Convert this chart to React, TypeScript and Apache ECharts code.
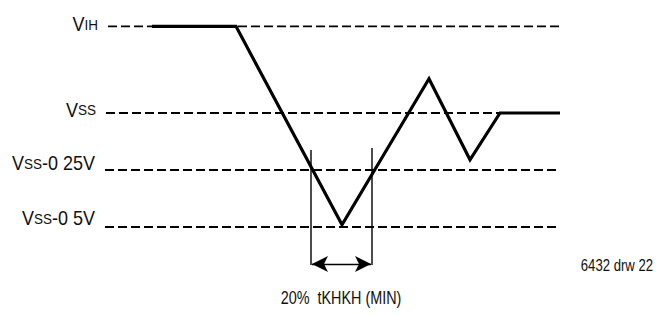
import React, { useEffect, useRef } from "react";
import * as echarts from "echarts";

// Voltage levels (volts relative to VSS)
const levelLabels = ["{v|V}{s|IH}", "{v|V}{s|SS}", "{v|V}{s|SS}{v|-0 25V}", "{v|V}{s|SS}{v|-0 5V}"];
const levelValues = [0.38, 0, -0.25, -0.5];
const levelStart = [0.8, 0.6, 0.5, 0.5];
const levelEnd = [46.3, 46.0, 45.8, 45.8];
const labelOffsetY = [-2, -3, -6.5, -8.5];

// Clock waveform (time units, volts)
const waveT = [5.2, 13.6, 24.2, 32.9, 37.0, 40.0, 46.0];
const waveV = [0.38, 0.38, -0.49, 0.15, -0.205, 0, 0];

// 20% tKHKH markers
const markerT = [21.1, 27.2];
const markerTop = [-0.162, -0.154];
const markerBottom = -0.667;
const arrowV = -0.662;

const noteText = "6432 drw 22";
const captionText = "20%  tKHKH (MIN)";

const FONT = "'Liberation Sans', Arial, sans-serif";

export default function App() {
  const ref = useRef<HTMLDivElement>(null);
  useEffect(() => {
    if (!ref.current) return;
    const chart = echarts.init(ref.current, null, { renderer: "svg" });
    const levelSeries = levelValues.map((v, i) => ({
      type: "line",
      z: 2,
      symbol: "none",
      lineStyle: { color: "#000", width: 1.8, type: [9, 4] },
      clip: false,
      silent: true,
      data: [
        [levelStart[i], v],
        [levelEnd[i], v],
      ],
    }));
    const markerSeries = markerT.map((t, i) => ({
      type: "line",
      z: 3,
      symbol: "none",
      lineStyle: { color: "#000", width: 1.4 },
      clip: false,
      silent: true,
      data: [
        [t, markerTop[i]],
        [t, markerBottom],
      ],
      markLine:
        i === 0
          ? {
              silent: true,
              symbol: ["arrow", "arrow"],
              symbolSize: [12, 16],
              label: { show: false },
              lineStyle: { color: "#000", width: 1.4, type: "solid" },
              data: [
                [
                  { coord: [markerT[0] + 0.1, arrowV] },
                  { coord: [markerT[1] - 0.1, arrowV] },
                ],
              ],
            }
          : undefined,
    }));
    chart.setOption({
      animation: false,
      backgroundColor: "#fff",
      grid: { left: 100, right: 63, top: 21.8, bottom: 42.4 },
      xAxis: { type: "value", min: 0, max: 50, show: false },
      yAxis: { type: "value", min: -0.7, max: 0.4, show: false },
      series: [
        ...levelSeries,
        ...markerSeries,
        {
          type: "line",
          z: 5,
          symbol: "none",
          lineStyle: { color: "#000", width: 3.2, join: "miter" },
          clip: false,
          silent: true,
          data: waveT.map((t, i) => [t, waveV[i]]),
        },
      ],
    });

    const rich = {
      v: { fontSize: 20, fontFamily: FONT, fill: "#111", verticalAlign: "bottom", lineHeight: 20 },
      s: { fontSize: 15, fontFamily: FONT, fill: "#111", verticalAlign: "bottom", lineHeight: 20, padding: [0, 0, 2.4, 0] },
    };
    const labelGraphics = levelValues.map((v, i) => {
      const p = chart.convertToPixel({ gridIndex: 0 }, [levelStart[i], v]) as number[];
      return {
        type: "text",
        x: p[0] - 10,
        y: p[1] + labelOffsetY[i],
        scaleX: 0.9,
        silent: true,
        style: {
          text: levelLabels[i],
          rich,
          fontSize: 20,
          fontFamily: FONT,
          fill: "#111",
          align: "right",
          verticalAlign: "middle",
        },
      };
    });
    chart.setOption({
      graphic: [
        ...labelGraphics,
        {
          type: "text",
          x: 653,
          y: 266,
          scaleX: 0.82,
          silent: true,
          style: {
            text: noteText,
            fontSize: 16,
            fontFamily: FONT,
            fill: "#111",
            align: "right",
            verticalAlign: "middle",
          },
        },
        {
          type: "text",
          x: 341,
          y: 297,
          scaleX: 0.8,
          silent: true,
          style: {
            text: captionText,
            fontSize: 18,
            fontFamily: FONT,
            fill: "#111",
            align: "center",
            verticalAlign: "middle",
          },
        },
      ],
    });
    return () => chart.dispose();
  }, []);
  return (
    <div
      ref={ref}
      style={{ position: "absolute", left: 0, top: 0, width: 663, height: 315, background: "#fff" }}
    />
  );
}
